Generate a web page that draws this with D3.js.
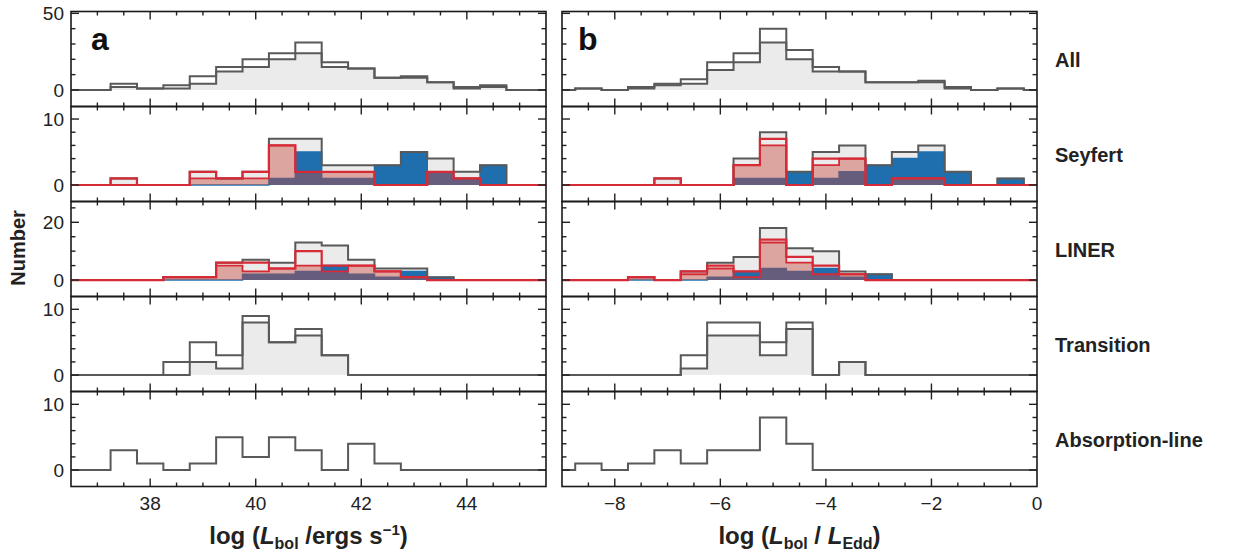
<!DOCTYPE html>
<html>
<head>
<meta charset="utf-8">
<script src="https://cdn.jsdelivr.net/npm/d3@7"></script>
<style>
    body { margin: 0; background: #fff; }
    svg { font-family: "Liberation Sans", Arial, Helvetica, sans-serif; }
</style>
</head>
<body>
<svg id="chart" width="1242" height="554"></svg>
<script>
// ------- Data: counts per 0.5-dex bin -------

const lumCenters = [37.0, 37.5, 38.0, 38.5, 39.0, 39.5, 40.0, 40.5, 41.0, 41.5, 42.0, 42.5, 43.0, 43.5, 44.0, 44.5, 45.0];
const eddCenters = [-8.5, -8.0, -7.5, -7.0, -6.5, -6.0, -5.5, -5.0, -4.5, -4.0, -3.5, -3.0, -2.5, -2.0, -1.5, -1.0, -0.5];

const rowNames = ['All', 'Seyfert', 'LINER', 'Transition', 'Absorption-line'];

// All
const allOpenLum   = [0, 4, 1, 3, 9, 15, 20, 24, 31, 18, 14, 8, 9, 5, 2, 3, 0];
const allFillLum   = [0, 2, 1, 1, 4, 12, 15, 20, 24, 15, 14, 8, 8, 5, 1, 2, 0];
const allOpenEdd   = [1, 0, 2, 4, 7, 18, 24, 40, 26, 15, 12, 5, 5, 6, 2, 0, 1];
const allFillEdd   = [1, 0, 1, 3, 4, 13, 18, 31, 20, 12, 12, 5, 5, 5, 1, 0, 1];

// Seyfert
const seyTotalLum  = [0, 1, 0, 0, 2, 1, 2, 7, 7, 3, 3, 3, 5, 4, 2, 3, 0];
const seyType1Lum  = [0, 0, 0, 0, 0, 0, 0, 1, 5, 1, 1, 3, 5, 2, 1, 3, 0];
const seyType2Lum  = [0, 1, 0, 0, 2, 1, 2, 6, 2, 2, 2, 0, 0, 2, 1, 0, 0];
const seyDet2Lum   = [0, 0, 0, 0, 1, 1, 1, 6, 2, 2, 2, 0, 0, 2, 1, 0, 0];
const seyTotalEdd  = [0, 0, 0, 1, 0, 0, 4, 8, 2, 5, 6, 3, 5, 6, 2, 0, 1];
const seyType1Edd  = [0, 0, 0, 0, 0, 0, 1, 1, 2, 1, 2, 3, 4, 5, 2, 0, 1];
const seyType2Edd  = [0, 0, 0, 1, 0, 0, 3, 7, 0, 4, 4, 0, 1, 1, 0, 0, 0];
const seyDet2Edd   = [0, 0, 0, 0, 0, 0, 3, 6, 0, 3, 4, 0, 1, 1, 0, 0, 0];

// LINER
const linTotalLum  = [0, 0, 0, 1, 1, 6, 7, 6, 13, 12, 7, 4, 4, 1, 0, 0, 0];
const linType1Lum  = [0, 0, 0, 0, 0, 0, 2, 2, 3, 5, 2, 1, 3, 1, 0, 0, 0];
const linType2Lum  = [0, 0, 0, 1, 1, 6, 6, 4, 10, 5, 5, 3, 1, 0, 0, 0, 0];
const linDet2Lum   = [0, 0, 0, 1, 1, 5, 3, 4, 5, 3, 5, 3, 1, 0, 0, 0, 0];
const linTotalEdd  = [0, 0, 1, 0, 3, 6, 8, 18, 11, 10, 3, 2, 0, 0, 0, 0, 0];
const linType1Edd  = [0, 0, 0, 0, 0, 1, 3, 4, 3, 4, 1, 2, 0, 0, 0, 0, 0];
const linType2Edd  = [0, 0, 1, 0, 3, 5, 3, 14, 8, 5, 2, 0, 0, 0, 0, 0, 0];
const linDet2Edd   = [0, 0, 1, 0, 2, 4, 1, 13, 6, 2, 2, 0, 0, 0, 0, 0, 0];

// Transition
const trOpenLum    = [0, 0, 0, 2, 5, 3, 9, 5, 7, 3, 0, 0, 0, 0, 0, 0, 0];
const trFillLum    = [0, 0, 0, 0, 2, 1, 8, 5, 6, 3, 0, 0, 0, 0, 0, 0, 0];
const trOpenEdd    = [0, 0, 0, 0, 3, 8, 8, 5, 8, 0, 2, 0, 0, 0, 0, 0, 0];
const trFillEdd    = [0, 0, 0, 0, 1, 6, 6, 3, 7, 0, 2, 0, 0, 0, 0, 0, 0];

// Absorption-line
const absOpenLum   = [0, 3, 1, 0, 1, 5, 2, 5, 3, 0, 4, 1, 0, 0, 0, 0, 0];
const absOpenEdd   = [1, 0, 1, 3, 1, 3, 3, 8, 4, 0, 0, 0, 0, 0, 0, 0, 0];

const lumTicks = [38, 40, 42, 44];
const eddTicks = [-8, -6, -4, -2, 0];

// ------- Layout -------

const svg = d3.select('#chart');

const panelX = [[71, 546], [562, 1037]];
const panelDomain = [[36.5, 45.5], [-9, 0]];
const rowTop = 11.5;
const rowH = 95;
const binHalf = 0.25;

const grey = '#595959';
const greyFill = '#ebebeb';
const blue = '#1f6fae';
const red = '#d62a36';
const pinkFill = 'rgba(200, 70, 58, 0.42)';

// y settings per row: domain, labelled ticks, minor ticks
const rowY = [
    {dom: [-10.8, 51.2], major: [0, 50], minor: [10, 20, 30, 40]},
    {dom: [-2.5, 11.9], major: [0, 10], minor: [2, 4, 6, 8]},
    {dom: [-5.7, 27.2], major: [0, 20], minor: [5, 10, 15, 25]},
    {dom: [-2.5, 11.95], major: [0, 10], minor: [2, 4, 6, 8]},
    {dom: [-2.5, 11.95], major: [0, 10], minor: [2, 4, 6, 8]}
];

// layers drawn in order
const layers = [
    [[['fill', allFillLum], ['open', allOpenLum]],
     [['fill', allFillEdd], ['open', allOpenEdd]]],
    [[['fillOnly', seyTotalLum], ['blue', seyType1Lum], ['pink', seyDet2Lum], ['outline', seyTotalLum], ['red', seyType2Lum]],
     [['fillOnly', seyTotalEdd], ['blue', seyType1Edd], ['pink', seyDet2Edd], ['outline', seyTotalEdd], ['red', seyType2Edd]]],
    [[['fillOnly', linTotalLum], ['blue', linType1Lum], ['pink', linDet2Lum], ['outline', linTotalLum], ['red', linType2Lum]],
     [['fillOnly', linTotalEdd], ['blue', linType1Edd], ['pink', linDet2Edd], ['outline', linTotalEdd], ['red', linType2Edd]]],
    [[['fill', trFillLum], ['open', trOpenLum]],
     [['fill', trFillEdd], ['open', trOpenEdd]]],
    [[['open', absOpenLum]],
     [['open', absOpenEdd]]]
];

const styles = {
    fill:     {fill: greyFill, stroke: grey, width: 2},
    fillOnly: {fill: greyFill, stroke: 'none', width: 0},
    open:     {fill: 'none', stroke: grey, width: 2},
    outline:  {fill: 'none', stroke: grey, width: 2},
    blue:     {fill: blue, stroke: blue, width: 1.5},
    pink:     {fill: pinkFill, stroke: red, width: 1.8},
    red:      {fill: 'none', stroke: red, width: 2.2}
};

const stepPoints = (centers, counts, dom) => {
    const pts = [[dom[0], 0]];
    centers.forEach((c, i) => pts.push([c - binHalf, counts[i]]));
    pts.push([centers[centers.length - 1] + binHalf, 0]);
    pts.push([dom[1], 0]);
    return pts;
};

rowNames.forEach((name, r) => {
    const top = rowTop + r * rowH;
    const y = d3.scaleLinear().domain(rowY[r].dom).range([top + rowH, top]);

    [0, 1].forEach(p => {
        const x = d3.scaleLinear().domain(panelDomain[p]).range(panelX[p]);
        const centers = p === 0 ? lumCenters : eddCenters;
        const g = svg.append('g').attr('class', `panel r${r} p${p}`);

        const line = d3.line().curve(d3.curveStepAfter).x(d => x(d[0])).y(d => y(d[1]));
        const area = d3.area().curve(d3.curveStepAfter).x(d => x(d[0])).y0(y(0)).y1(d => y(d[1]));

        layers[r][p].forEach(([kind, counts]) => {
            const st = styles[kind];
            const pts = stepPoints(centers, counts, panelDomain[p]);
            if (st.fill !== 'none') {
                g.append('path').attr('d', area(pts)).attr('fill', st.fill).attr('stroke', 'none');
            }
            if (st.stroke !== 'none') {
                g.append('path').attr('d', line(pts)).attr('fill', 'none')
                    .attr('stroke', st.stroke).attr('stroke-width', st.width);
            }
        });

        // x ticks, top and bottom, pointing inward
        const xt = d3.range(panelDomain[p][0] + 0.5, panelDomain[p][1], 0.5);
        xt.forEach(v => {
            const major = Math.abs(v % 2) < 1e-9;
            const len = major ? 8 : 4;
            [[top, 1], [top + rowH, -1]].forEach(([yy, dir]) => {
                g.append('line')
                    .attr('x1', x(v)).attr('x2', x(v))
                    .attr('y1', yy).attr('y2', yy + dir * len)
                    .attr('stroke', '#222').attr('stroke-width', 1.4);
            });
        });

        // y ticks, left and right, pointing inward
        const yTicks = rowY[r].major.map(v => [v, 8]).concat(rowY[r].minor.map(v => [v, 4.5]));
        yTicks.forEach(([v, len]) => {
            [[panelX[p][0], 1], [panelX[p][1], -1]].forEach(([xx, dir]) => {
                g.append('line')
                    .attr('x1', xx).attr('x2', xx + dir * len)
                    .attr('y1', y(v)).attr('y2', y(v))
                    .attr('stroke', '#222').attr('stroke-width', 1.4);
            });
        });

        // frame
        g.append('rect')
            .attr('x', panelX[p][0]).attr('y', top)
            .attr('width', panelX[p][1] - panelX[p][0]).attr('height', rowH)
            .attr('fill', 'none').attr('stroke', '#1a1a1a').attr('stroke-width', 1.6);

        // y tick labels on the left column only
        if (p === 0) {
            rowY[r].major.forEach(v => {
                svg.append('text')
                    .attr('x', 64).attr('y', y(v)).attr('dy', '0.36em')
                    .attr('text-anchor', 'end').attr('font-size', 19).attr('fill', '#222')
                    .text(v);
            });
        }

        // x tick labels under the bottom row
        if (r === rowNames.length - 1) {
            (p === 0 ? lumTicks : eddTicks).forEach(v => {
                svg.append('text')
                    .attr('x', x(v)).attr('y', 510)
                    .attr('text-anchor', 'middle').attr('font-size', 19).attr('fill', '#222')
                    .text(v < 0 ? '\u2212' + Math.abs(v) : v);
            });
        }
    });

    // row label on the right
    svg.append('text')
        .attr('x', 1055).attr('y', top + 48.5).attr('dy', '0.36em')
        .attr('font-size', 20).attr('font-weight', 'bold').attr('fill', '#222')
        .text(name);
});

// ------- Panel letters and axis titles -------

svg.append('text').attr('x', 91).attr('y', 50)
    .attr('font-size', 32).attr('font-weight', 'bold').attr('fill', '#111').text('a');
svg.append('text').attr('x', 578).attr('y', 50)
    .attr('font-size', 32).attr('font-weight', 'bold').attr('fill', '#111').text('b');

svg.append('text')
    .attr('transform', 'translate(25, 248) rotate(-90)')
    .attr('text-anchor', 'middle').attr('font-size', 20).attr('font-weight', 'bold').attr('fill', '#222')
    .text('Number');

const titleA = svg.append('text')
    .attr('x', (panelX[0][0] + panelX[0][1]) / 2).attr('y', 544)
    .attr('text-anchor', 'middle').attr('font-size', 24).attr('font-weight', 'bold').attr('fill', '#222');
titleA.append('tspan').text('log (');
titleA.append('tspan').attr('font-style', 'italic').text('L');
titleA.append('tspan').attr('font-size', 16).attr('dy', 5).text('bol');
titleA.append('tspan').attr('dy', -5).text(' /ergs s');
titleA.append('tspan').attr('font-size', 15).attr('dy', -9).text('\u22121');
titleA.append('tspan').attr('dy', 9).text(')');

const titleB = svg.append('text')
    .attr('x', (panelX[1][0] + panelX[1][1]) / 2).attr('y', 544)
    .attr('text-anchor', 'middle').attr('font-size', 24).attr('font-weight', 'bold').attr('fill', '#222');
titleB.append('tspan').text('log (');
titleB.append('tspan').attr('font-style', 'italic').text('L');
titleB.append('tspan').attr('font-size', 16).attr('dy', 5).text('bol');
titleB.append('tspan').attr('dy', -5).text(' / ');
titleB.append('tspan').attr('font-style', 'italic').text('L');
titleB.append('tspan').attr('font-size', 16).attr('dy', 5).text('Edd');
titleB.append('tspan').attr('dy', -5).text(')');
</script>
</body>
</html>
